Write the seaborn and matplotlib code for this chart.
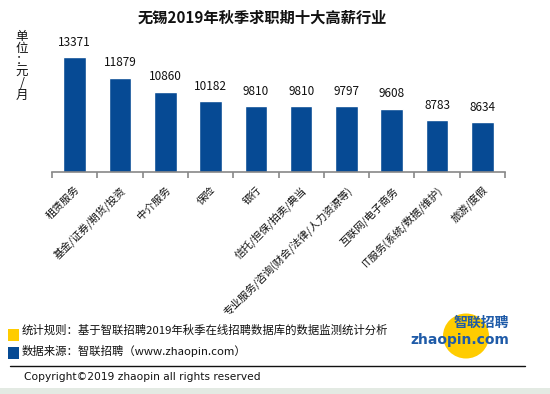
import matplotlib
matplotlib.use("Agg")
import matplotlib.pyplot as plt
import matplotlib.patches as mpatches
from matplotlib.lines import Line2D
import seaborn as sns
import pandas as pd
import numpy as np

categories = ["租赁服务", "基金/证券/期货/投资", "中介服务", "保险", "银行",
              "信托/担保/拍卖/典当", "专业服务/咨询(财会/法律/人力资源等)",
              "互联网/电子商务", "IT服务(系统/数据/维护)", "旅游/度假"]
salaries = [13371, 11879, 10860, 10182, 9810, 9810, 9797, 9608, 8783, 8634]

title = "无锡2019年秋季求职期十大高薪行业"
unit_label = "单位：元/月"
note_rule = "统计规则：基于智联招聘2019年秋季在线招聘数据库的数据监测统计分析"
note_source = "数据来源：智联招聘（www.zhaopin.com）"
copyright_text = "Copyright©2019 zhaopin all rights reserved"

BLUE = "#064A94"
YELLOW = "#FFCC00"

sns.set_theme(style="white")
plt.rcParams['font.family'] = ['Noto Sans CJK SC', 'DejaVu Sans']

df = pd.DataFrame({"industry": categories, "salary": salaries})

fig = plt.figure(figsize=(5.5, 3.94), dpi=100)
W, H = 550, 394
ax = fig.add_axes([52 / W, 1 - 172 / H, (505 - 52) / W, (172 - 41) / H])

sns.barplot(data=df, x="industry", y="salary", color=BLUE, width=0.5,
            saturation=1, ax=ax)
ax.set_ylim(5000, 14550)
ax.set_xlim(-0.5, len(categories) - 0.5)
ax.set_xlabel("")
ax.set_ylabel("")
ax.set_yticks([])
for s in ["top", "right", "left"]:
    ax.spines[s].set_visible(False)
ax.spines["bottom"].set_color("#888888")
ax.spines["bottom"].set_linewidth(1.2)

ax.set_xticks(range(len(categories)))
ax.set_xticklabels(categories, rotation=45, ha="right", va="top",
                   rotation_mode="anchor", fontsize=7.6, color="#111111")
ax.tick_params(axis="x", which="major", length=0, pad=9)
ax.set_xticks(np.arange(-0.5, len(categories)), minor=True)
ax.tick_params(axis="x", which="minor", length=4, width=1.2, color="#888888",
               bottom=True)

for i, v in enumerate(salaries):
    ax.annotate(str(v), (i, v), xytext=(0, 6), textcoords="offset points",
                ha="center", va="bottom", fontsize=8.5, color="#111111")

fig.text(262 / W, 1 - 18 / H, title, ha="center", va="center",
         fontsize=11, fontweight="bold", color="#111111")
fig.text(22 / W, 1 - 66 / H, "\n".join(["单", "位", "：", "元", "/", "月"]),
         ha="center", va="center", fontsize=9, linespacing=0.88, color="#111111")

# footer legend squares
fig.add_artist(mpatches.Rectangle((8 / W, 1 - 341 / H), 11 / W, 12 / H,
                                  transform=fig.transFigure, color=YELLOW, lw=0))
fig.add_artist(mpatches.Rectangle((8 / W, 1 - 359 / H), 11 / W, 12 / H,
                                  transform=fig.transFigure, color=BLUE, lw=0))
fig.text(22 / W, 1 - 330 / H, note_rule, ha="left", va="center",
         fontsize=8.2, color="#111111")
fig.text(22 / W, 1 - 351 / H, note_source, ha="left", va="center",
         fontsize=8.2, color="#111111")
fig.add_artist(Line2D([10 / W, 525 / W], [1 - 366 / H, 1 - 366 / H],
                      transform=fig.transFigure, color="#111111", lw=1))
fig.text(24 / W, 1 - 377 / H, copyright_text, ha="left", va="center",
         fontsize=7.7, color="#111111", family=["DejaVu Sans"])
fig.add_artist(mpatches.Rectangle((0, 0), 1, 6 / H, transform=fig.transFigure,
                                  color="#E3EAE3", lw=0))

# logo
lax = fig.add_axes([400 / W, 1 - 362 / H, 120 / W, 50 / H])
lax.set_xlim(0, 120)
lax.set_ylim(0, 50)
lax.axis("off")
lax.add_patch(mpatches.Ellipse((66, 26), 46, 45, color=YELLOW, lw=0))
lax.text(81, 39, "智联招聘", ha="center", va="center", fontsize=10,
         fontweight="bold", color="#1F5BA8")
lax.text(60, 22, "zhaopin.com", ha="center", va="center", fontsize=10,
         fontweight="bold", color="#1F5BA8", family=["DejaVu Sans"])

fig.savefig("out.png", dpi=100)
